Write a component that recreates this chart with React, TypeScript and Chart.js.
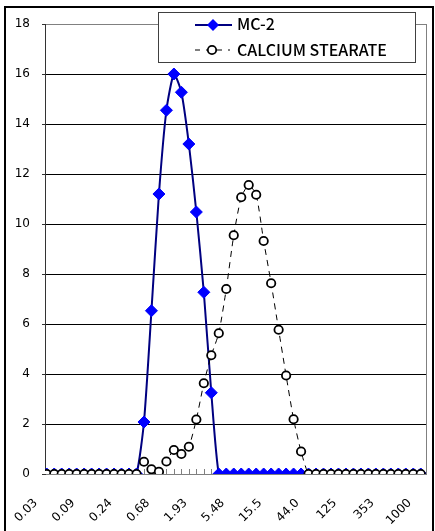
import React, { useEffect, useRef } from 'react';
import { Chart, registerables } from 'chart.js';

Chart.register(...registerables);

const W = 435;
const H = 531;

// category axis (51 size classes), labelled every 5th class
const categoryCount = 51;
const tickIndex = [0, 5, 10, 15, 20, 25, 30, 35, 40, 45, 50];
const tickLabels = ['0.03', '0.09', '0.24', '0.68', '1.93', '5.48', '15.5', '44.0', '125', '353', '1000'];
const yTicks = [0, 2, 4, 6, 8, 10, 12, 14, 16, 18];

const seriesNames = ['MC-2', 'CALCIUM STEARATE'];

const mc2 = [
  0, 0, 0, 0, 0, 0, 0, 0, 0, 0,
  0, 0, 0, 2.08, 6.53, 11.2, 14.55, 16.0, 15.27, 13.2,
  10.48, 7.27, 3.25, 0, 0, 0, 0, 0, 0, 0,
  0, 0, 0, 0, 0, 0, 0, 0, 0, 0,
  0, 0, 0, 0, 0, 0, 0, 0, 0, 0,
  0,
];

const calcium = [
  0, 0, 0, 0, 0, 0, 0, 0, 0, 0,
  0, 0, 0, 0.49, 0.19, 0.09, 0.5, 0.96, 0.8, 1.09,
  2.18, 3.63, 4.75, 5.63, 7.4, 9.55, 11.07, 11.56, 11.17, 9.32,
  7.63, 5.77, 3.94, 2.19, 0.9, 0, 0, 0, 0, 0,
  0, 0, 0, 0, 0, 0, 0, 0, 0, 0,
  0,
];

const NAVY = '#000080';
const BLUE = '#0000ff';
const GRAY = '#808080';

const decorPlugin = {
  id: 'decor',
  beforeDraw(chart: any) {
    const ctx = chart.ctx;
    ctx.save();
    ctx.fillStyle = '#fff';
    ctx.fillRect(0, 0, chart.width, chart.height);
    ctx.restore();
  },
  beforeDatasetsDraw(chart: any) {
    const ctx = chart.ctx;
    const area = chart.chartArea;
    const xs = chart.scales.x;
    ctx.save();
    ctx.strokeStyle = GRAY;
    ctx.lineWidth = 1;
    // inward tick marks at each category
    for (let i = 0; i < categoryCount; i++) {
      const px = Math.round(xs.getPixelForValue(i)) + 0.5;
      ctx.beginPath();
      ctx.moveTo(px, area.bottom);
      ctx.lineTo(px, area.bottom - 5);
      ctx.stroke();
    }
    // right plot border
    ctx.beginPath();
    ctx.moveTo(Math.round(area.right) + 0.5, area.top);
    ctx.lineTo(Math.round(area.right) + 0.5, area.bottom);
    ctx.stroke();
    ctx.restore();
  },
  afterDraw(chart: any) {
    const ctx = chart.ctx;
    ctx.save();
    // outer chart frame
    ctx.strokeStyle = '#000';
    ctx.lineWidth = 2;
    ctx.strokeRect(5, 7, 428, 540);

    // legend box
    const bx = 158.5, by = 12.5, bw = 257, bh = 50;
    ctx.fillStyle = '#fff';
    ctx.fillRect(bx, by, bw, bh);
    ctx.strokeStyle = '#404040';
    ctx.lineWidth = 1;
    ctx.strokeRect(bx, by, bw, bh);

    // MC-2 entry
    const y1 = 25;
    ctx.strokeStyle = NAVY;
    ctx.lineWidth = 2;
    ctx.beginPath();
    ctx.moveTo(195, y1);
    ctx.lineTo(232, y1);
    ctx.stroke();
    const r = 6;
    ctx.fillStyle = BLUE;
    ctx.beginPath();
    ctx.moveTo(213, y1 - r);
    ctx.lineTo(213 + r, y1);
    ctx.lineTo(213, y1 + r);
    ctx.lineTo(213 - r, y1);
    ctx.closePath();
    ctx.fill();

    // CALCIUM entry
    const y2 = 50;
    ctx.strokeStyle = '#000';
    ctx.lineWidth = 1;
    ctx.setLineDash([5, 6]);
    ctx.beginPath();
    ctx.moveTo(195, y2);
    ctx.lineTo(230, y2);
    ctx.stroke();
    ctx.setLineDash([]);
    ctx.fillStyle = '#fff';
    ctx.lineWidth = 1.8;
    ctx.beginPath();
    ctx.arc(212, y2, 4.2, 0, Math.PI * 2);
    ctx.fill();
    ctx.stroke();

    ctx.fillStyle = '#000';
    ctx.font = '500 16px "Noto Sans CJK JP"';
    ctx.textBaseline = 'middle';
    ctx.textAlign = 'left';
    ctx.fillText(seriesNames[0], 237, 24);
    ctx.fillText(seriesNames[1], 237, 49.5);
    ctx.restore();
  },
};

export default function App() {
  const canvasRef = useRef<HTMLCanvasElement | null>(null);

  useEffect(() => {
    const canvas = canvasRef.current;
    if (!canvas) return;
    const chart = new Chart(canvas, {
      type: 'line',
      data: {
        datasets: [
          {
            label: seriesNames[1],
            data: calcium.map((v, i) => ({ x: i, y: v })),
            borderColor: '#000',
            borderWidth: 1,
            borderDash: [6, 5],
            pointStyle: 'circle',
            pointRadius: 4.2,
            pointBorderWidth: 1.8,
            pointBackgroundColor: '#fff',
            pointBorderColor: '#000',
            tension: 0.2,
            order: 0,
          },
          {
            label: seriesNames[0],
            data: mc2.map((v, i) => ({ x: i, y: v })),
            borderColor: NAVY,
            borderWidth: 2,
            pointStyle: 'rectRot',
            pointRadius: 6,
            pointBorderWidth: 1,
            pointBackgroundColor: BLUE,
            pointBorderColor: BLUE,
            tension: 0.2,
            order: 1,
          },
        ],
      },
      options: {
        responsive: false,
        animation: false,
        devicePixelRatio: 1,
        layout: { padding: { left: 0, top: 24, right: 9, bottom: 0 } },
        plugins: { legend: { display: false }, tooltip: { enabled: false } },
        scales: {
          x: {
            type: 'linear',
            min: -0.23,
            max: 50.7,
            afterFit: (s: any) => {
              s.height = 57;
              s.paddingLeft = 0;
              s.paddingRight = 0;
            },
            afterBuildTicks: (s: any) => { s.ticks = tickIndex.map((v) => ({ value: v })); },
            ticks: {
              autoSkip: false,
              minRotation: 45,
              maxRotation: 45,
              padding: 14,
              labelOffset: -11,
              color: '#000',
              font: { family: 'DejaVu Sans', size: 12 },
              callback: (v: any) => {
                const k = tickIndex.indexOf(Number(v));
                return k >= 0 ? tickLabels[k] : '';
              },
            },
            grid: { display: false },
            border: { display: true, color: GRAY, width: 1 },
          },
          y: {
            min: 0,
            max: 18,
            afterFit: (s: any) => { s.width = 45; },
            afterBuildTicks: (s: any) => { s.ticks = yTicks.map((v) => ({ value: v })); },
            ticks: {
              padding: 12,
              color: '#000',
              font: { family: 'DejaVu Sans', size: 12 },
            },
            grid: {
              color: (c: any) => (c.tick && (c.tick.value === 18 || c.tick.value === 0) ? GRAY : '#000'),
              tickColor: '#333',
              tickLength: 3,
              lineWidth: 1,
            },
            border: { color: '#333', width: 1 },
          },
        },
      },
      plugins: [decorPlugin],
    });
    return () => chart.destroy();
  }, []);

  return (
    <div style={{ position: 'absolute', left: 0, top: 0, width: W, height: H, background: '#fff' }}>
      <canvas ref={canvasRef} width={W} height={H} style={{ display: 'block', width: W, height: H }} />
    </div>
  );
}
